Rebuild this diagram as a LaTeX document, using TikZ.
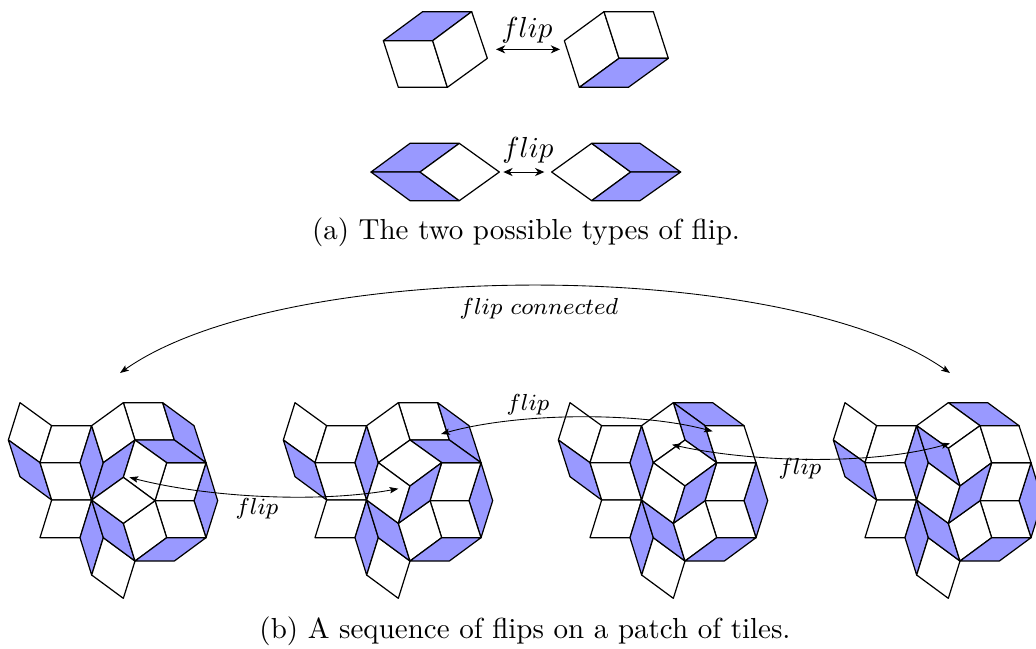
\documentclass[tikz,border=0pt]{standalone}
\usetikzlibrary{arrows.meta}
\definecolor{tileblue}{RGB}{153,153,255}
\tikzset{
  px/.style={x=0.345pt,y=-0.345pt},
  zm/.style={x=0.115pt,y=-0.115pt},
  wtile/.style={draw=black,fill=white,line width=0.42pt,line join=round},
  btile/.style={draw=black,fill=tileblue,line width=0.42pt,line join=round},
  flipar/.style={{Stealth[length=3.2pt,width=2.8pt,inset=1pt]}-{Stealth[length=3.2pt,width=2.8pt,inset=1pt]},line width=0.35pt},
  curvar/.style={-{Stealth[length=3pt,width=2.2pt,inset=0.6pt]},line width=0.3pt},
  bothar/.style={{Stealth[length=3pt,width=2.2pt,inset=0.6pt]}-{Stealth[length=3pt,width=2.2pt,inset=0.6pt]},line width=0.3pt},
  biglabel/.style={inner sep=0pt,font=\normalsize},
  smalllabel/.style={inner sep=0pt,font=\footnotesize},
  caption/.style={inner sep=0pt,font=\normalsize}
}
\newcommand\wt[1]{\draw[wtile] #1 -- cycle;}
\newcommand\bt[1]{\draw[btile] #1 -- cycle;}
% vertices of one patch, in the local units
\newcommand\patchpts{%
  \foreach \n/\p in {P1/{75,38},P2/{170,107},P3/{290,107},P4/{385,38},P5/{503,38},P6/{597,107},
    P7/{633,218},P8/{668,332},P9/{633,443},P10/{538,513},P11/{420,513},P12/{385,625},
    P13/{290,555},P14/{255,443},P15/{135,443},P16/{170,330},P17/{75,260},P18/{40,150},
    P19/{135,218},P20/{255,218},P21/{290,330},P22/{325,443},P23/{325,218},P24/{420,150},
    P25/{538,150},P26/{515,218},P27/{597,332},P28/{480,332},P29/{515,443},P30/{385,400},
    P31/{420,288},P32/{385,262},P33/{480,107},P34/{385,175}}
  {\coordinate (\n) at (\p);}%
}
% the tiles that all four patches share
\newcommand\commontiles{%
  \wt{(P1)--(P2)--(P19)--(P18)}
  \wt{(P2)--(P3)--(P20)--(P19)}
  \bt{(P18)--(P19)--(P16)--(P17)}
  \wt{(P19)--(P20)--(P21)--(P16)}
  \bt{(P3)--(P23)--(P21)--(P20)}
  \wt{(P16)--(P21)--(P14)--(P15)}
  \bt{(P21)--(P22)--(P13)--(P14)}
  \wt{(P22)--(P11)--(P12)--(P13)}
  \bt{(P21)--(P30)--(P11)--(P22)}
  \bt{(P7)--(P8)--(P9)--(P27)}
  \wt{(P26)--(P7)--(P27)--(P28)}
  \wt{(P28)--(P27)--(P9)--(P29)}
  \wt{(P30)--(P28)--(P29)--(P11)}
  \bt{(P29)--(P9)--(P10)--(P11)}
}
\begin{document}
\begin{tikzpicture}[px]
\useasboundingbox (0,0) rectangle (1036,648);
\clip (0,0) rectangle (1036,648);

% ---- upper flips
\begin{scope}[shift={(360,0)},zm]
  \foreach \n/\p in {A1/{70,122},A2/{188,35},A3/{335,35},A4/{382,175},A5/{262,262},A6/{115,262},A7/{218,122},
    B1/{613,122},B2/{732,35},B3/{880,35},B4/{925,175},B5/{805,262},B6/{658,262},B7/{777,175},
    C1/{33,516},C2/{150,430},C3/{298,430},C4/{418,516},C5/{298,602},C6/{150,602},C7/{180,516},
    D1/{575,516},D2/{695,430},D3/{840,430},D4/{962,516},D5/{840,602},D6/{695,602},D7/{812,516},
    E1/{408,148},E2/{600,148},F1/{430,516},F2/{553,516}}
  {\coordinate (\n) at (\p);}
  \bt{(A1)--(A2)--(A3)--(A7)}
  \wt{(A1)--(A7)--(A5)--(A6)}
  \wt{(A7)--(A3)--(A4)--(A5)}
  \wt{(B1)--(B2)--(B7)--(B6)}
  \wt{(B2)--(B3)--(B4)--(B7)}
  \bt{(B7)--(B4)--(B5)--(B6)}
  \bt{(C1)--(C2)--(C3)--(C7)}
  \bt{(C1)--(C7)--(C5)--(C6)}
  \wt{(C7)--(C3)--(C4)--(C5)}
  \wt{(D1)--(D2)--(D7)--(D6)}
  \bt{(D2)--(D3)--(D4)--(D7)}
  \bt{(D7)--(D4)--(D5)--(D6)}
  \draw[flipar] (E1) -- (E2);
  \draw[flipar] (F1) -- (F2);
\end{scope}
\node[biglabel] (flipa) at (527,30) {$flip$};
\node[biglabel] (flipb) at (528,150) {$flip$};
\node[caption] (capa) at (526,232) {(a) The two possible types of flip.};

% ---- patch 1
\begin{scope}[shift={(-5,390)},zm]
  \patchpts
  \commontiles
  \wt{(P4)--(P5)--(P25)--(P24)}
  \bt{(P5)--(P6)--(P7)--(P25)}
  \bt{(P24)--(P25)--(P7)--(P26)}
  \wt{(P3)--(P4)--(P24)--(P23)}
  \bt{(P23)--(P24)--(P32)--(P21)}
  \wt{(P24)--(P26)--(P28)--(P32)}
  \wt{(P21)--(P32)--(P28)--(P30)}
  \coordinate (s1) at (403,262);
\end{scope}
% ---- patch 2
\begin{scope}[shift={(270,390)},zm]
  \patchpts
  \commontiles
  \wt{(P4)--(P5)--(P25)--(P24)}
  \bt{(P5)--(P6)--(P7)--(P25)}
  \bt{(P24)--(P25)--(P7)--(P26)}
  \wt{(P3)--(P4)--(P24)--(P23)}
  \wt{(P23)--(P24)--(P26)--(P31)}
  \wt{(P23)--(P31)--(P30)--(P21)}
  \bt{(P26)--(P28)--(P30)--(P31)}
  \coordinate (s2) at (385,296);
  \coordinate (s3) at (513,132);
\end{scope}
% ---- patch 3
\begin{scope}[shift={(545,390)},zm]
  \patchpts
  \commontiles
  \bt{(P4)--(P5)--(P6)--(P33)}
  \bt{(P4)--(P33)--(P26)--(P24)}
  \wt{(P33)--(P6)--(P7)--(P26)}
  \wt{(P3)--(P4)--(P24)--(P23)}
  \wt{(P23)--(P24)--(P26)--(P31)}
  \wt{(P23)--(P31)--(P30)--(P21)}
  \bt{(P26)--(P28)--(P30)--(P31)}
  \coordinate (s4) at (503,124);
  \coordinate (s5) at (381,164);
\end{scope}
% ---- patch 4
\begin{scope}[shift={(820,390)},zm]
  \patchpts
  \commontiles
  \bt{(P4)--(P5)--(P6)--(P33)}
  \wt{(P3)--(P4)--(P33)--(P34)}
  \wt{(P34)--(P33)--(P26)--(P31)}
  \bt{(P3)--(P34)--(P31)--(P23)}
  \wt{(P33)--(P6)--(P7)--(P26)}
  \wt{(P23)--(P31)--(P30)--(P21)}
  \bt{(P26)--(P28)--(P30)--(P31)}
  \coordinate (s6) at (390,160);
\end{scope}

% ---- connectors over the patches
\coordinate (c1) at (120,373);
\coordinate (c2) at (950,373);
\draw[bothar] (c1) .. controls (285,257) and (785,257) .. (c2);
\node[smalllabel] (fc) at (539,309) {$flip\ connected$};
\draw[bothar] (s1) .. controls (210,498) and (320,503) .. (s2);
\node[smalllabel] (f1) at (257,509) {$flip$};
\draw[bothar] (s3) .. controls (520,412) and (640,412) .. (s4);
\node[smalllabel] (f2) at (528,405) {$flip$};
\draw[bothar] (s5) .. controls (750,462) and (870,466) .. (s6);
\node[smalllabel] (f3) at (800,469) {$flip$};

\node[caption] (capb) at (525,631) {(b) A sequence of flips on a patch of tiles.};
\end{tikzpicture}
\end{document}
